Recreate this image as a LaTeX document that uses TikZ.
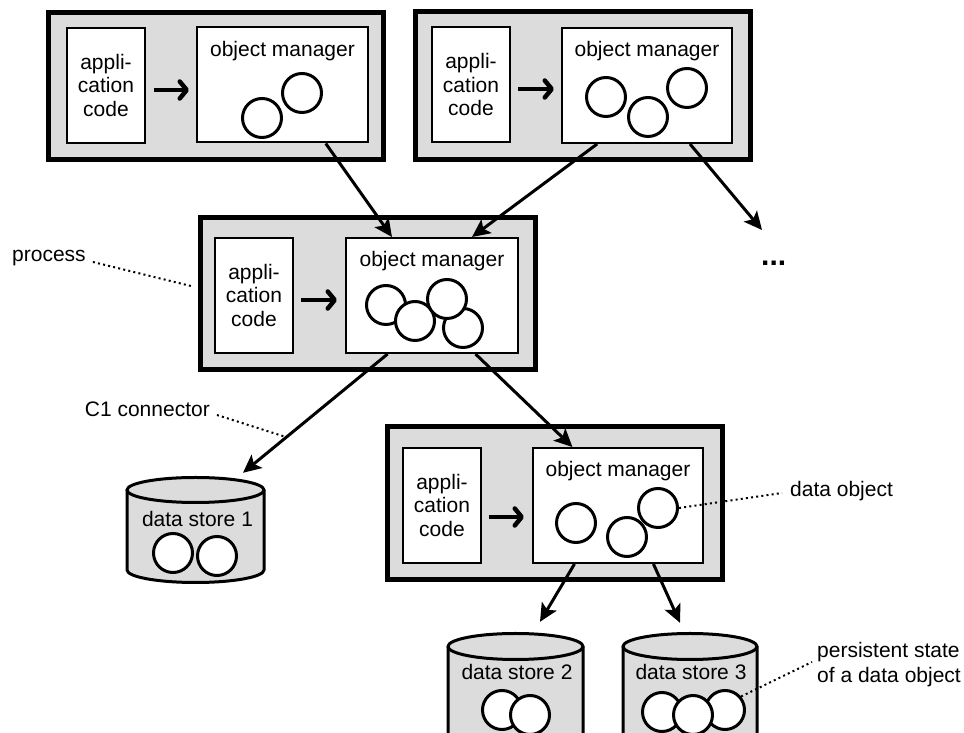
\documentclass[tikz,border=0pt]{standalone}
\usepackage{fontspec}
\setmainfont{Liberation Sans}
\usetikzlibrary{arrows.meta,calc}
\definecolor{boxgray}{RGB}{220,220,220}
\begin{document}
\begin{tikzpicture}[x=1pt,y=1pt,
  every node/.style={font=\fontsize{21pt}{23.5pt}\selectfont},
  procbox/.style={draw, line width=5pt, fill=boxgray, minimum width=335pt, inner sep=0pt},
  appbox/.style={draw, line width=2pt, fill=white, minimum width=78pt, minimum height=115pt, inner sep=0pt, align=center},
  ombox/.style={draw, line width=2pt, fill=white, minimum height=115pt, inner sep=0pt},
  obj/.style={circle, draw, line width=3pt, fill=white, minimum size=39pt, inner sep=0pt},
  flow/.style={line width=3pt, -{Stealth[length=18pt,width=17pt,inset=4pt]}},
  callarrow/.style={line width=4.5pt, -{Straight Barb[length=7pt,width=17pt,round]}},
  annot/.style={line width=2pt, dash pattern=on 2pt off 3.2pt},
  lbl/.style={inner sep=0pt},
  cyl/.style={draw, line width=3pt, fill=boxgray, line join=round},
  hold/.style={inner sep=0pt, minimum width=137pt},
]
\useasboundingbox (0,0) rectangle (964,733);
\clip (0,0) rectangle (964,733);

% ---------- process 1 ----------
\node[procbox, minimum height=147pt] (p1) at (215.5,646.5) {};
\node[appbox] (a1) at (106,647.5) {appli-\\cation\\code};
\node[ombox, minimum width=171pt] (m1) at (282.5,648) {};
\node[lbl, anchor=base] (m1t) at ($(m1.north)+(0,-30)$) {object manager};
\node[obj] (c11) at (262,615) {};
\node[obj] (c12) at (302,640) {};
\draw[callarrow] ($(a1.east)+(8,-4.5)$) -- ($(m1.west)+(-7,-5)$);

% ---------- process 2 ----------
\node[procbox, minimum height=148pt] (p2) at (582.5,647) {};
\node[appbox] (a2) at (471,648) {appli-\\cation\\code};
\node[ombox, minimum width=170pt] (m2) at (647,647.5) {};
\node[lbl, anchor=base] (m2t) at ($(m2.north)+(0,-30)$) {object manager};
\node[obj] (c21) at (606,636) {};
\node[obj] (c22) at (648,616) {};
\node[obj] (c23) at (687,645) {};
\draw[callarrow] ($(a2.east)+(7,-4)$) -- ($(m2.west)+(-7,-3.5)$);

% ---------- process 3 ----------
\node[procbox, minimum height=152pt] (p3) at (367.5,439) {};
\node[appbox] (a3) at (254,437.5) {appli-\\cation\\code};
\node[ombox, minimum width=172pt] (m3) at (432,437.5) {};
\node[lbl, anchor=base] (m3t) at ($(m3.north)+(0,-30)$) {object manager};
\node[obj] (c31) at (386,428) {};
\node[obj] (c32) at (415,412) {};
\node[obj] (c34) at (463,405) {};
\node[obj] (c33) at (447,434) {};
\draw[callarrow] ($(a3.east)+(7,-4.5)$) -- ($(m3.west)+(-8,-4.5)$);

% ---------- process 4 ----------
\node[procbox, minimum height=153pt] (p4) at (554.5,229.5) {};
\node[appbox] (a4) at (442,227.5) {appli-\\cation\\code};
\node[ombox, minimum width=170pt] (m4) at (618,227.5) {};
\node[lbl, anchor=base] (m4t) at ($(m4.north)+(0,-30)$) {object manager};
\node[obj] (c41) at (576,210) {};
\node[obj] (c42) at (627,196) {};
\node[obj] (c43) at (658,225) {};
\draw[callarrow] ($(a4.east)+(7,-11.5)$) -- ($(m4.west)+(-8,-11.5)$);

% ---------- data store 1 ----------
\node[hold, minimum height=105pt] (ds1) at (195.5,203) {};
\path[cyl] (127,243) -- (127,163) arc[start angle=180,end angle=360,x radius=68.5pt,y radius=12.5pt] -- (264,243) -- cycle;
\path[cyl] (195.5,243) ellipse[x radius=68.5pt, y radius=12.5pt];
\node[lbl, anchor=base] (d1t) at (197.5,206) {data store 1};
\node[obj] (s11) at (173,180) {};
\node[obj] (s12) at (217,177) {};

% ---------- data store 2 ----------
\node[hold, minimum height=99.5pt] (ds2) at (515.5,49.75) {};
\path[cyl] (448,86.5) -- (448,-5) arc[start angle=180,end angle=360,x radius=67.5pt,y radius=13pt] -- (583,86.5) -- cycle;
\path[cyl] (515.5,86.5) ellipse[x radius=67.5pt, y radius=13pt];
\node[lbl, anchor=base] (d2t) at (517,53) {data store 2};
\node[obj] (s21) at (502,23) {};
\node[obj] (s22) at (530,18) {};

% ---------- data store 3 ----------
\node[hold, minimum height=99.5pt] (ds3) at (690,49.75) {};
\path[cyl] (623,86.5) -- (623,-5) arc[start angle=180,end angle=360,x radius=67pt,y radius=13pt] -- (757,86.5) -- cycle;
\path[cyl] (690,86.5) ellipse[x radius=67pt, y radius=13pt];
\node[lbl, anchor=base] (d3t) at (691,53) {data store 3};
\node[obj] (s31) at (662,21) {};
\node[obj] (s33) at (725,23) {};
\node[obj] (s32) at (693,18) {};

% ---------- connectors ----------
\draw[flow] ($(m1.south west)!0.75!(m1.south east)$) -- ($(m3.north west)!0.27!(m3.north east)$);
\draw[flow] ($(m2.south west)!0.21!(m2.south east)$) -- ($(m3.north west)!0.73!(m3.north east)$);
\coordinate (more) at (762,503);
\draw[flow] ($(m2.south west)!0.75!(m2.south east)$) -- (more);
\node[lbl, anchor=base west, font=\fontsize{30pt}{32pt}\selectfont\bfseries] (dots) at (761,467) {...};
\draw[flow] ($(m3.south west)!0.245!(m3.south east)$) -- coordinate[pos=0.70] (c1pt) ([xshift=47.5pt,yshift=4.5pt]ds1.north);
\draw[flow] ($(m3.south west)!0.75!(m3.south east)$) -- ($(m4.north west)!0.235!(m4.north east)$);
\draw[flow] ($(m4.south west)!0.247!(m4.south east)$) -- ([xshift=24.5pt,yshift=11.5pt]ds2.north);
\draw[flow] ($(m4.south west)!0.706!(m4.south east)$) -- ([xshift=-10pt,yshift=10.5pt]ds3.north);

% ---------- annotations ----------
\node[lbl, anchor=base west] (lp) at (12,471) {process};
\draw[annot] ([xshift=7pt]lp.base east) -- ($(p3.north west)!0.45!(p3.south west)+(-6,0)$);
\node[lbl, anchor=base east] (lc) at (210,316) {C1 connector};
\draw[annot] ([xshift=7pt,yshift=2pt]lc.base east) -- (c1pt);
\node[lbl, anchor=base west] (ldo) at (790,236) {data object};
\draw[annot] (c43.east) -- ([xshift=-8pt,yshift=4pt]ldo.base west);
\node[lbl, anchor=base west, align=left, font=\fontsize{21pt}{25pt}\selectfont] (lps) at (817,50) {persistent state\\of a data object};
\draw[annot] (s33.40) -- ([xshift=-5pt,yshift=21pt]lps.base west);
\end{tikzpicture}
\end{document}
